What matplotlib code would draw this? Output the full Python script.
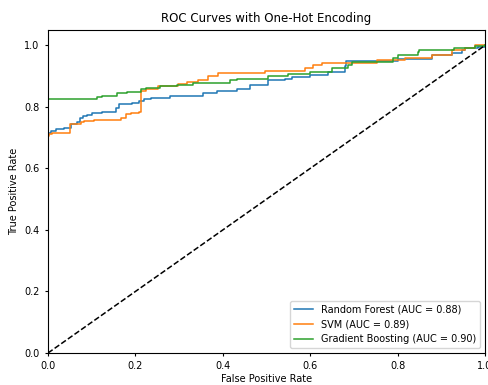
import matplotlib
matplotlib.use("Agg")
import matplotlib.pyplot as plt

# puntos de las curvas ROC, escalones tipo "post"
rf_fpr = [0.0, 0.0, 0.006, 0.018, 0.037, 0.052, 0.067, 0.073, 0.079, 0.090, 0.101, 0.124,
          0.155, 0.163, 0.192, 0.208, 0.220, 0.235, 0.279, 0.300, 0.355, 0.386, 0.432,
          0.462, 0.503, 0.542, 0.558, 0.600, 0.640, 0.680, 0.683, 0.800, 0.878, 0.924,
          0.947, 0.954, 0.984, 1.0]
rf_tpr = [0.0, 0.714, 0.722, 0.727, 0.733, 0.743, 0.751, 0.765, 0.770, 0.773, 0.779, 0.783,
          0.797, 0.808, 0.813, 0.819, 0.826, 0.830, 0.834, 0.837, 0.846, 0.851, 0.857,
          0.871, 0.886, 0.892, 0.898, 0.905, 0.915, 0.932, 0.950, 0.956, 0.968, 0.975,
          0.984, 0.991, 0.995, 1.0]

svm_fpr = [0.0, 0.0, 0.002, 0.010, 0.050, 0.075, 0.082, 0.105, 0.166, 0.178, 0.189, 0.208,
           0.212, 0.224, 0.252, 0.298, 0.317, 0.344, 0.367, 0.390, 0.497, 0.588, 0.607,
           0.626, 0.752, 0.817, 0.878, 0.924, 0.954, 0.977, 1.0]
svm_tpr = [0.0, 0.707, 0.713, 0.716, 0.746, 0.751, 0.754, 0.759, 0.765, 0.776, 0.781, 0.783,
           0.853, 0.859, 0.867, 0.873, 0.880, 0.889, 0.900, 0.910, 0.918, 0.927, 0.935,
           0.943, 0.953, 0.959, 0.970, 0.986, 0.993, 1.0, 1.0]

gb_fpr = [0.0, 0.0, 0.112, 0.124, 0.158, 0.180, 0.213, 0.224, 0.256, 0.295, 0.332, 0.416,
          0.432, 0.503, 0.549, 0.600, 0.650, 0.686, 0.695, 0.790, 0.800, 0.847, 0.850,
          0.930, 0.977, 1.0]
gb_tpr = [0.0, 0.827, 0.832, 0.837, 0.844, 0.848, 0.857, 0.860, 0.867, 0.871, 0.878, 0.886,
          0.891, 0.900, 0.907, 0.915, 0.927, 0.935, 0.946, 0.959, 0.968, 0.978, 0.986,
          0.990, 0.997, 1.0]

nombres = ["Random Forest", "SVM", "Gradient Boosting"]
aucs = [0.88, 0.89, 0.90]

fig = plt.figure(figsize=(4.89, 3.85), dpi=100)
ax = fig.add_axes([48 / 489, 32 / 385, 437 / 489, 323 / 385])

curvas = [(rf_fpr, rf_tpr), (svm_fpr, svm_tpr), (gb_fpr, gb_tpr)]
for (fpr, tpr), nombre, auc in zip(curvas, nombres, aucs):
    ax.plot(fpr, tpr, drawstyle="steps-post", lw=1.1, label=f"{nombre} (AUC = {auc:.2f})")

ax.plot([0, 1], [0, 1], "k--", lw=1.1)
ax.set_xlim([0.0, 1.0])
ax.set_ylim([0.0, 1.05])
ax.set_xlabel("False Positive Rate", fontsize=7, labelpad=2)
ax.set_ylabel("True Positive Rate", fontsize=7)
ax.set_title("ROC Curves with One-Hot Encoding", fontsize=8.5)
ax.tick_params(labelsize=7, length=2.5)
ax.legend(loc="lower right", fontsize=7)

fig.savefig("out.png", dpi=100)
